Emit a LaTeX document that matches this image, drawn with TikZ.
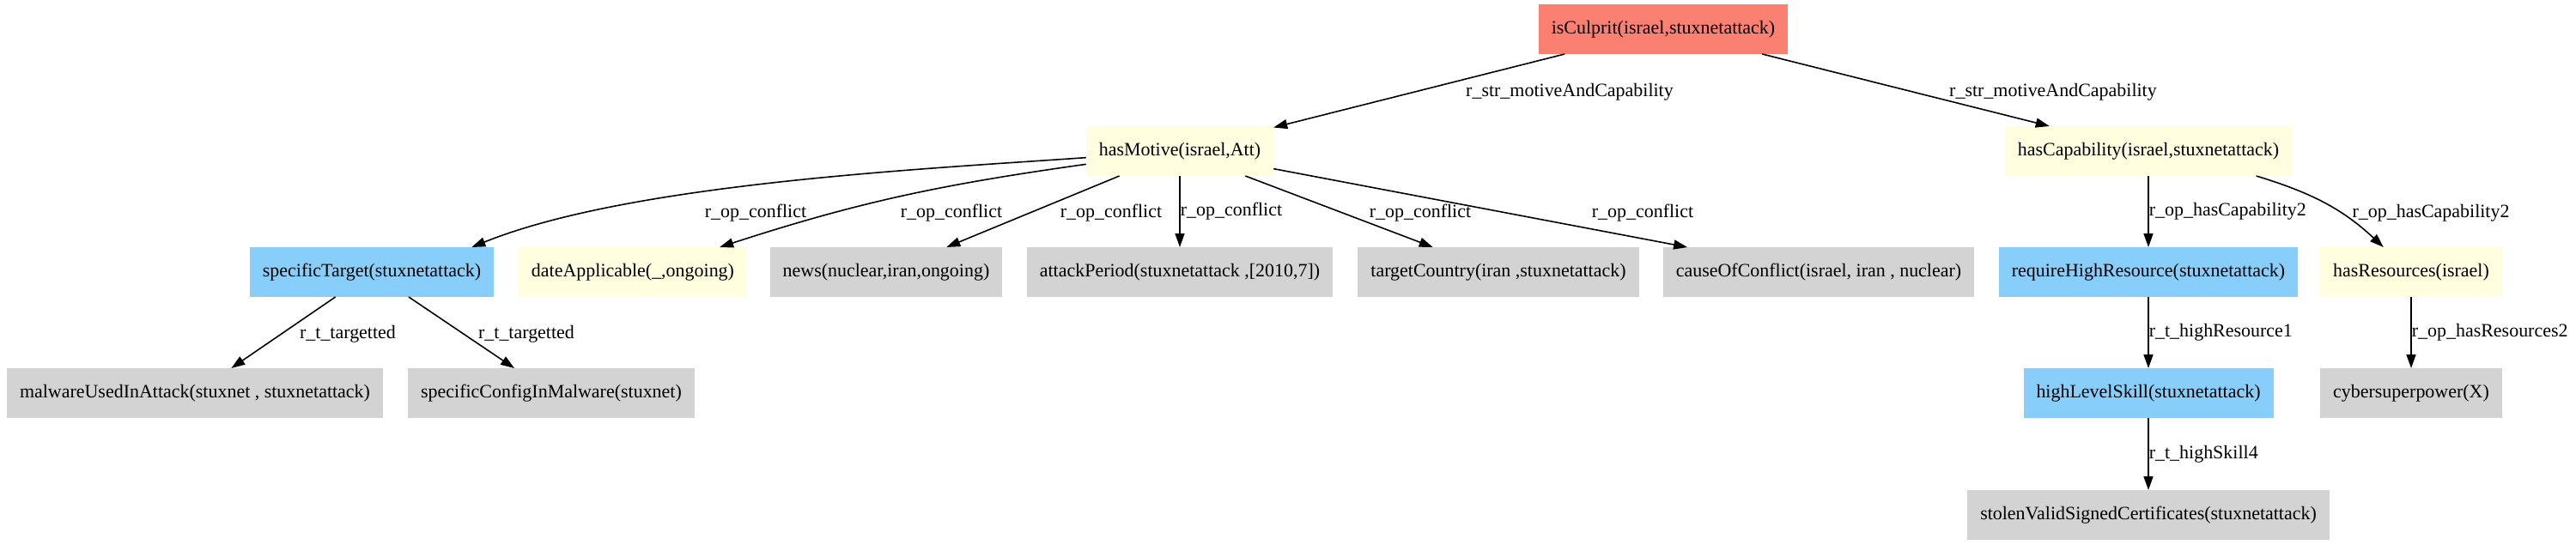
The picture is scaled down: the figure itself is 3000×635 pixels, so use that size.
\documentclass[tikz,border=0pt]{standalone}
\usepackage{fontspec}
\setmainfont{Liberation Serif}
\usetikzlibrary{arrows.meta}
\definecolor{csalmon}{HTML}{FA8072}
\definecolor{cyellow}{HTML}{FFFFE0}
\definecolor{cblue}{HTML}{87CEFA}
\definecolor{cgrey}{HTML}{D3D3D3}
\tikzset{
  every picture/.style={font=\fontsize{12.5}{15}\selectfont, line width=0.9pt},
  fact/.style={fill=#1, inner xsep=0.3cm, inner ysep=0pt, minimum height=1.16cm, outer sep=0pt},
  fact/.default=cgrey,
  arrow/.style={-{Triangle[length=0.32cm, width=0.22cm]}, draw=black, line width=0.9pt},
  rel/.style={inner sep=0pt},
}

\begin{document}
\begin{tikzpicture}[x=0.02cm, y=0.02cm]
  \useasboundingbox (0,0) rectangle (3000,-635);
  % ---- root
  \node[fact=csalmon] (culprit) at (1937,-34) {isCulprit(israel,stuxnetattack)};
  % ---- motive and capability
  \node[fact=cyellow] (motive) at (1374,-176) {hasMotive(israel,Att)};
  \node[fact=cyellow] (capability) at (2502,-176) {hasCapability(israel,stuxnetattack)};
  \draw[arrow] (culprit) -- (motive);
  \draw[arrow] (culprit) -- (capability);
  \node[rel] (strA) at (1828,-107) {r\_str\_motiveAndCapability};
  \node[rel] (strB) at (2391,-107) {r\_str\_motiveAndCapability};
  % ---- conflict facts
  \node[fact=cblue] (target) at (433,-317) {specificTarget(stuxnetattack)};
  \node[fact=cyellow] (date) at (737,-317) {dateApplicable(\_,ongoing)};
  \node[fact] (news) at (1032,-317) {news(nuclear,iran,ongoing)};
  \node[fact] (period) at (1374,-317) {attackPeriod(stuxnetattack ,[2010,7])};
  \node[fact] (country) at (1745,-317) {targetCountry(iran ,stuxnetattack)};
  \node[fact] (cause) at (2118,-317) {causeOfConflict(israel, iran , nuclear)};
  \draw[arrow] (motive.184) to[out=184, in=22, looseness=0.7] (target.14);
  \draw[arrow] (motive.188) to[out=188, in=18] (date.16);
  \draw[arrow] (motive) -- (news);
  \draw[arrow] (motive) -- node[rel, right] {r\_op\_conflict} (period);
  \draw[arrow] (motive) -- (country);
  \draw[arrow] (motive) -- (cause);
  \node[rel] (opA) at (880,-248) {r\_op\_conflict};
  \node[rel] (opB) at (1108,-248) {r\_op\_conflict};
  \node[rel] (opC) at (1294,-248) {r\_op\_conflict};
  \node[rel] (opE) at (1654,-248) {r\_op\_conflict};
  \node[rel] (opF) at (1913,-248) {r\_op\_conflict};
  % ---- capability facts
  \node[fact=cblue] (require) at (2502,-317) {requireHighResource(stuxnetattack)};
  \node[fact=cyellow] (resources) at (2808,-317) {hasResources(israel)};
  \draw[arrow] (capability) -- node[rel, right] {r\_op\_hasCapability2} (require);
  \draw[arrow] (capability.-13.5) to[out=-17, in=137] (resources.138);
  \node[rel] (capB) at (2831,-248) {r\_op\_hasCapability2};
  % ---- target facts
  \node[fact] (malware) at (227,-458) {malwareUsedInAttack(stuxnet , stuxnetattack)};
  \node[fact] (config) at (642,-458) {specificConfigInMalware(stuxnet)};
  \draw[arrow] (target) -- (malware);
  \draw[arrow] (target) -- (config);
  \node[rel] (tgtA) at (405,-389) {r\_t\_targetted};
  \node[rel] (tgtB) at (613,-389) {r\_t\_targetted};
  % ---- skill and resources
  \node[fact=cblue] (skill) at (2502,-458) {highLevelSkill(stuxnetattack)};
  \node[fact] (cyber) at (2808,-458) {cybersuperpower(X)};
  \node[fact] (stolen) at (2502,-600) {stolenValidSignedCertificates(stuxnetattack)};
  \draw[arrow] (require) -- node[rel, right] {r\_t\_highResource1} (skill);
  \draw[arrow] (resources) -- node[rel, right] {r\_op\_hasResources2} (cyber);
  \draw[arrow] (skill) -- node[rel, right] {r\_t\_highSkill4} (stolen);
\end{tikzpicture}
\end{document}
